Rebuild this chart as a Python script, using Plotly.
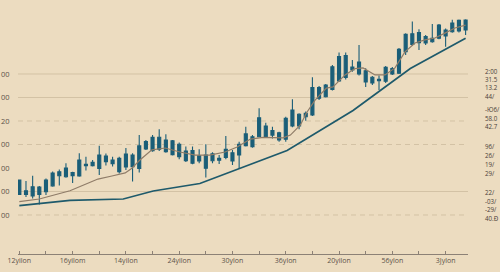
import plotly.graph_objects as go

# ---------------- data ----------------
high = [1149, 1145, 1167, 1123, 1155, 1185, 1194, 1220, 1184, 1263,
        1248, 1234, 1295, 1262, 1248, 1248, 1285, 1263, 1340, 1319,
        1340, 1365, 1344, 1319, 1308, 1291, 1291, 1280, 1301, 1267,
        1255, 1336, 1277, 1312, 1376, 1340, 1454, 1393, 1376, 1354,
        1418, 1492, 1433, 1440, 1586, 1549, 1557, 1638, 1691, 1691,
        1660, 1723, 1624, 1591, 1594, 1634, 1630, 1711, 1773, 1823,
        1790, 1766, 1813, 1813, 1794, 1831, 1832, 1833]
body_top = [1149, 1103, 1120, 1119, 1149, 1179, 1184, 1200, 1181, 1234,
            1216, 1224, 1255, 1251, 1234, 1241, 1259, 1255, 1294, 1312,
            1331, 1331, 1319, 1316, 1301, 1272, 1274, 1252, 1255, 1260,
            1241, 1280, 1265, 1301, 1345, 1333, 1414, 1379, 1359, 1350,
            1411, 1447, 1429, 1433, 1542, 1542, 1553, 1631, 1674, 1679,
            1630, 1651, 1614, 1586, 1577, 1628, 1623, 1705, 1769, 1771,
            1776, 1759, 1752, 1808, 1787, 1817, 1828, 1830]
body_bottom = [1087, 1087, 1081, 1087, 1099, 1124, 1167, 1163, 1167, 1166,
               1210, 1210, 1198, 1227, 1218, 1184, 1204, 1206, 1198, 1281,
               1274, 1280, 1269, 1257, 1248, 1231, 1220, 1230, 1199, 1231,
               1233, 1245, 1230, 1255, 1295, 1291, 1333, 1333, 1340, 1319,
               1322, 1379, 1379, 1418, 1426, 1497, 1503, 1534, 1570, 1585,
               1617, 1600, 1566, 1562, 1571, 1569, 1600, 1603, 1695, 1726,
               1733, 1732, 1737, 1752, 1762, 1780, 1783, 1787]
low = [1085, 1077, 1070, 1045, 1085, 1120, 1125, 1158, 1136, 1163,
       1189, 1206, 1170, 1211, 1206, 1177, 1191, 1142, 1181, 1277,
       1269, 1272, 1265, 1253, 1237, 1226, 1216, 1220, 1160, 1220,
       1217, 1237, 1213, 1196, 1291, 1286, 1331, 1331, 1326, 1312,
       1312, 1373, 1365, 1401, 1421, 1489, 1500, 1530, 1567, 1577,
       1610, 1594, 1545, 1553, 1532, 1562, 1596, 1600, 1681, 1719,
       1702, 1723, 1733, 1748, 1716, 1776, 1777, 1766]
# direction of each candle (1 = up, 0 = down)
up = [0, 0, 1, 0, 1, 1, 1, 1, 0, 1,
      0, 1, 1, 0, 0, 0, 1, 0, 1, 1,
      1, 0, 0, 0, 0, 0, 1, 0, 0, 1,
      0, 1, 0, 1, 1, 0, 1, 0, 0, 0,
      1, 1, 0, 1, 1, 0, 1, 1, 1, 0,
      1, 0, 0, 0, 1, 1, 0, 1, 1, 1,
      0, 0, 1, 1, 0, 1, 1, 0]
opens = [b if u else t for u, t, b in zip(up, body_top, body_bottom)]
closes = [t if u else b for u, t, b in zip(up, body_top, body_bottom)]
idx = list(range(len(high)))

# short moving average (brown) and long moving average (teal)
ma_short_x = [0, 3, 7.6, 11.8, 13.9, 15.9, 16.9, 18.1, 19.9, 21.9, 24.1, 26.4,
              28.6, 30.9, 32.7, 34.7, 36.6, 39.6, 40.7, 42.2, 43.1, 44.4, 46.1,
              47.1, 48.9, 50.4, 51.6, 53.4, 54.9, 56.4, 57.9, 59.4, 60.9, 62.4,
              63.9, 65.4, 67]
ma_short_y = [1057, 1068, 1103, 1153, 1166, 1179, 1199, 1234, 1277, 1285, 1268, 1255,
              1255, 1268, 1289, 1323, 1330, 1328, 1340, 1383, 1434, 1489, 1540,
              1545, 1596, 1623, 1626, 1596, 1596, 1626, 1694, 1732, 1745, 1753,
              1774, 1796, 1808]
ma_long_x = [0, 7.6, 15.6, 20.1, 27.1, 40.2, 46.7, 50.1, 58.7, 67]
ma_long_y = [1040, 1062, 1068, 1102, 1134, 1274, 1386, 1445, 1623, 1752]

# axis labels
x_tick_vals = list(range(0, 68, 4))
x_tick_text = ["12yilon", "", "16yilom", "", "14yilon", "", "24yilon", "",
               "30ylon", "", "36ylon", "", "20yilon", "", "56ylon", "", "3Jylon"]
left_vals = [1000, 1100, 1200, 1300, 1400, 1500, 1600]
left_text = ["00", "00", "00", "00", "20", "00", "00"]
right_text = ["2:00", "31.5", "13.2", "44/", "-Ю6/", "58.0", "42.7",
              "96/", "26/", "19/", "29/", "22/", "-03/", "-29/", "40.Ð"]
right_pos = [0.734, 0.701, 0.668, 0.633, 0.582, 0.545, 0.511,
             0.430, 0.395, 0.360, 0.325, 0.246, 0.212, 0.177, 0.143]
grid_vals = [1600, 1500, 1400, 1300, 1100, 1000]
grid_dash = ["solid", "solid", "5px,4px", "5px,4px", "solid", "5px,4px"]

# ---------------- styling ----------------
BG = "#ecdcc0"
CANDLE = "#1a5e78"
LONG = "#1e5a6b"
SHORT = "#8f7c68"
FONT = "Open Sans"

fig = go.Figure()
fig.add_trace(go.Candlestick(
    x=idx, open=opens, high=high, low=low, close=closes,
    increasing=dict(line=dict(color=CANDLE, width=1.1), fillcolor=CANDLE),
    decreasing=dict(line=dict(color=CANDLE, width=1.1), fillcolor=CANDLE),
    whiskerwidth=0, showlegend=False, hoverinfo="skip"))
fig.add_trace(go.Scatter(x=ma_short_x, y=ma_short_y, mode="lines",
                         line=dict(color=SHORT, width=1.2), showlegend=False,
                         hoverinfo="skip"))
fig.add_trace(go.Scatter(x=ma_long_x, y=ma_long_y, mode="lines",
                         line=dict(color=LONG, width=1.7), showlegend=False,
                         hoverinfo="skip"))

shapes = []
for v, d in zip(grid_vals, grid_dash):
    shapes.append(dict(type="line", xref="paper", x0=0, x1=1, yref="y", y0=v, y1=v,
                       line=dict(color="#d3c2a4", width=1, dash=d), layer="below"))

annotations = []
for v, t in zip(left_vals, left_text):
    annotations.append(dict(xref="paper", x=-0.04, yref="y", y=v, text=t,
                            showarrow=False, xanchor="left", yanchor="middle",
                            borderpad=0,
                            font=dict(size=7.5, color="#5c5249", family=FONT)))
for p, t in zip(right_pos, right_text):
    annotations.append(dict(xref="paper", x=1.0365, yref="paper", y=p, text=t,
                            showarrow=False, xanchor="left", yanchor="middle",
                            borderpad=0,
                            font=dict(size=6.2, color="#4a4038", family=FONT)))

fig.update_layout(
    width=500, height=272,
    margin=dict(l=18, r=32, t=5, b=18),
    paper_bgcolor=BG, plot_bgcolor=BG,
    boxgap=0.35,
    shapes=shapes, annotations=annotations,
    font=dict(family=FONT, size=7, color="#5c5249"),
    xaxis=dict(range=[-0.2, 67.36], rangeslider=dict(visible=False),
               showgrid=False, zeroline=False,
               showline=True, linecolor="#8c8176", linewidth=1,
               ticks="inside", ticklen=3, tickcolor="#8c8176", tickwidth=1,
               tickvals=x_tick_vals, ticktext=x_tick_text,
               tickfont=dict(size=7, color="#5c5249", family=FONT)),
    yaxis=dict(range=[834, 1893.6], showgrid=False, zeroline=False,
               showticklabels=False, showline=False, ticks=""),
)

fig.write_html("out.html")
